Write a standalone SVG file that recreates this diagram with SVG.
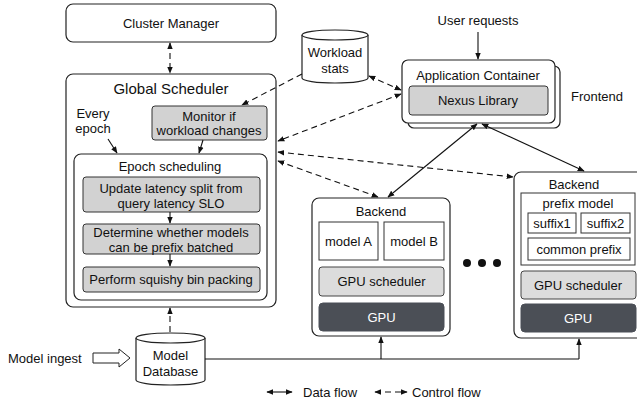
<svg xmlns="http://www.w3.org/2000/svg" width="637" height="402" viewBox="0 0 637 402">
  <defs>
    <marker id="ah" viewBox="0 0 10 10" refX="9" refY="5" markerWidth="7" markerHeight="7" markerUnits="userSpaceOnUse" orient="auto-start-reverse">
      <path d="M0,1 L10,5 L0,9 Z" fill="#111"/>
    </marker>
    <style>
      text { font-family: "Liberation Sans", Arial, Helvetica, sans-serif; font-size: 13px; fill: #111; text-anchor: middle; dominant-baseline: central; }
      .big { font-size: 15px; }
      .lft { text-anchor: start; }
      .box { fill: #fff; stroke: #222; stroke-width: 1.2; }
      .gray { fill: #d2d2d2; stroke: #333; stroke-width: 1; }
      .lgray { fill: #dcdcdc; stroke: #444; stroke-width: 1; }
      .white { fill: #fff; stroke: #333; stroke-width: 1; }
      .gpu { fill: #4b4f56; stroke: #4b4f56; stroke-width: 1; }
      .gputxt { fill: #fff; }
      .solid { fill: none; stroke: #111; stroke-width: 1.1; }
      .dash { fill: none; stroke: #111; stroke-width: 1.1; stroke-dasharray: 6 4; }
    </style>
  </defs>
  <rect width="637" height="402" fill="#fff"/>

  <!-- Cluster manager -->
  <g id="cluster-manager">
    <rect class="box" x="66" y="4" width="210" height="38" rx="7"/>
    <text x="171" y="23">Cluster Manager</text>
  </g>

  <!-- Global scheduler with its epoch pipeline -->
  <g id="global-scheduler">
    <rect class="box" x="66" y="74" width="210" height="233" rx="7"/>
    <text class="big" x="171" y="88">Global Scheduler</text>
    <text x="93" y="113">Every</text>
    <text x="93" y="128">epoch</text>
  </g>
  <g id="monitor">
    <rect class="gray" x="152" y="106" width="115" height="34" rx="3"/>
    <text x="209" y="116">Monitor if</text>
    <text x="209" y="130">workload changes</text>
  </g>
  <g id="epoch-scheduling">
    <rect class="box" x="74" y="154" width="193" height="146" rx="7"/>
    <text x="170" y="166">Epoch scheduling</text>
  </g>
  <g id="update-split">
    <rect class="gray" x="83" y="177" width="177" height="35" rx="3"/>
    <text x="171" y="188">Update latency split from</text>
    <text x="171" y="203">query latency SLO</text>
  </g>
  <g id="prefix-check">
    <rect class="gray" x="83" y="224" width="177" height="30" rx="3"/>
    <text x="171" y="232">Determine whether models</text>
    <text x="171" y="247">can be prefix batched</text>
  </g>
  <g id="bin-packing">
    <rect class="gray" x="83" y="267" width="177" height="25" rx="3"/>
    <text x="171" y="279">Perform squishy bin packing</text>
  </g>

  <!-- Workload stats store -->
  <g id="workload-stats">
    <path class="box" d="M302,35 L302,78 A33,5 0 0,0 368,78 L368,35"/>
    <ellipse class="box" cx="335" cy="35" rx="33" ry="5"/>
    <text x="335" y="52">Workload</text>
    <text x="335" y="68">stats</text>
  </g>

  <!-- Model database store -->
  <g id="model-database">
    <path class="box" d="M136,338 L136,380 A34.5,5 0 0,0 205,380 L205,338"/>
    <ellipse class="box" cx="170.5" cy="338" rx="34.5" ry="5"/>
    <text x="170.5" y="355">Model</text>
    <text x="170.5" y="371">Database</text>
  </g>

  <g id="model-ingest">
    <text class="lft" x="8" y="358">Model ingest</text>
    <polygon fill="#fff" stroke="#222" stroke-width="1" points="93,353 119,353 119,349 130,358 119,367 119,363 93,363"/>
  </g>

  <!-- Frontend -->
  <g id="user-requests">
    <text x="478" y="20">User requests</text>
  </g>
  <g id="application-container">
    <rect class="box" x="408" y="66" width="152" height="62" rx="6"/>
    <rect class="box" x="402" y="60" width="153" height="63" rx="6"/>
    <text x="478" y="75">Application Container</text>
    <rect class="gray" x="409" y="86" width="139" height="29" rx="3"/>
    <text x="478" y="100">Nexus Library</text>
    <text class="lft" x="571" y="96">Frontend</text>
  </g>

  <!-- Backend with two models -->
  <g id="backend-1">
    <rect class="box" x="312" y="198" width="138" height="138" rx="7"/>
    <text x="381" y="211">Backend</text>
    <rect class="white" x="319" y="222" width="59" height="38"/>
    <text x="348.5" y="241">model A</text>
    <rect class="white" x="384" y="222" width="60" height="38"/>
    <text x="414" y="241">model B</text>
    <rect class="lgray" x="319" y="267" width="125" height="29" rx="3"/>
    <text x="381.5" y="281">GPU scheduler</text>
    <rect class="gpu" x="319" y="303" width="125" height="28" rx="4"/>
    <text class="gputxt" x="381.5" y="317">GPU</text>
  </g>

  <g id="ellipsis">
    <circle cx="467" cy="263" r="4" fill="#111"/>
    <circle cx="482" cy="263" r="4" fill="#111"/>
    <circle cx="497" cy="263" r="4" fill="#111"/>
  </g>

  <!-- Backend with a prefix-batched model -->
  <g id="backend-2">
    <rect class="box" x="514" y="172" width="130" height="166" rx="7"/>
    <text x="574" y="184">Backend</text>
    <rect class="white" x="521" y="193" width="114" height="72"/>
    <text x="578" y="203">prefix model</text>
    <rect class="white" x="528" y="213" width="48" height="20"/>
    <text x="552" y="223">suffix1</text>
    <rect class="white" x="581" y="213" width="49" height="20"/>
    <text x="605.5" y="223">suffix2</text>
    <rect class="white" x="528" y="238" width="102" height="22"/>
    <text x="579" y="249">common prefix</text>
    <rect class="lgray" x="521" y="271" width="115" height="28" rx="3"/>
    <text x="578" y="285">GPU scheduler</text>
    <rect class="gpu" x="521" y="304" width="115" height="28" rx="4"/>
    <text class="gputxt" x="578" y="318">GPU</text>
  </g>

  <!-- Connectors -->
  <g id="connectors">
    <!-- control flow -->
    <line class="dash" x1="170" y1="43" x2="170" y2="73" marker-start="url(#ah)" marker-end="url(#ah)"/>
    <line class="dash" x1="302" y1="74" x2="242" y2="105" marker-end="url(#ah)"/>
    <line class="dash" x1="369" y1="76" x2="401" y2="90" marker-start="url(#ah)" marker-end="url(#ah)"/>
    <line class="dash" x1="401" y1="94" x2="278" y2="141" marker-start="url(#ah)" marker-end="url(#ah)"/>
    <line class="dash" x1="278" y1="152" x2="513" y2="177" marker-start="url(#ah)" marker-end="url(#ah)"/>
    <line class="dash" x1="278" y1="161" x2="378" y2="197" marker-start="url(#ah)" marker-end="url(#ah)"/>
    <line class="dash" x1="170" y1="332" x2="170" y2="308" marker-end="url(#ah)"/>

    <!-- data flow -->
    <line class="solid" x1="478" y1="32" x2="478" y2="59" marker-end="url(#ah)"/>
    <line class="solid" x1="477" y1="124" x2="388" y2="197" marker-start="url(#ah)" marker-end="url(#ah)"/>
    <line class="solid" x1="482" y1="124" x2="584" y2="171" marker-start="url(#ah)" marker-end="url(#ah)"/>
    <line class="solid" x1="205" y1="359" x2="579" y2="359"/>
    <line class="solid" x1="381" y1="359" x2="381" y2="337" marker-end="url(#ah)"/>
    <line class="solid" x1="579" y1="359" x2="579" y2="339" marker-end="url(#ah)"/>

    <!-- within the scheduler -->
    <line class="solid" x1="108" y1="139" x2="117" y2="153" marker-end="url(#ah)"/>
    <line class="solid" x1="203" y1="140" x2="199" y2="153" marker-end="url(#ah)"/>
    <line class="solid" x1="170" y1="212" x2="170" y2="223" marker-end="url(#ah)"/>
    <line class="solid" x1="170" y1="254" x2="170" y2="266" marker-end="url(#ah)"/>
  </g>

  <!-- Legend -->
  <g id="legend">
    <line class="solid" x1="267" y1="392" x2="292" y2="392" marker-start="url(#ah)" marker-end="url(#ah)"/>
    <text class="lft" x="303" y="392">Data flow</text>
    <line class="dash" x1="375" y1="392" x2="407" y2="392" marker-start="url(#ah)" marker-end="url(#ah)"/>
    <text class="lft" x="412" y="392">Control flow</text>
  </g>
</svg>
